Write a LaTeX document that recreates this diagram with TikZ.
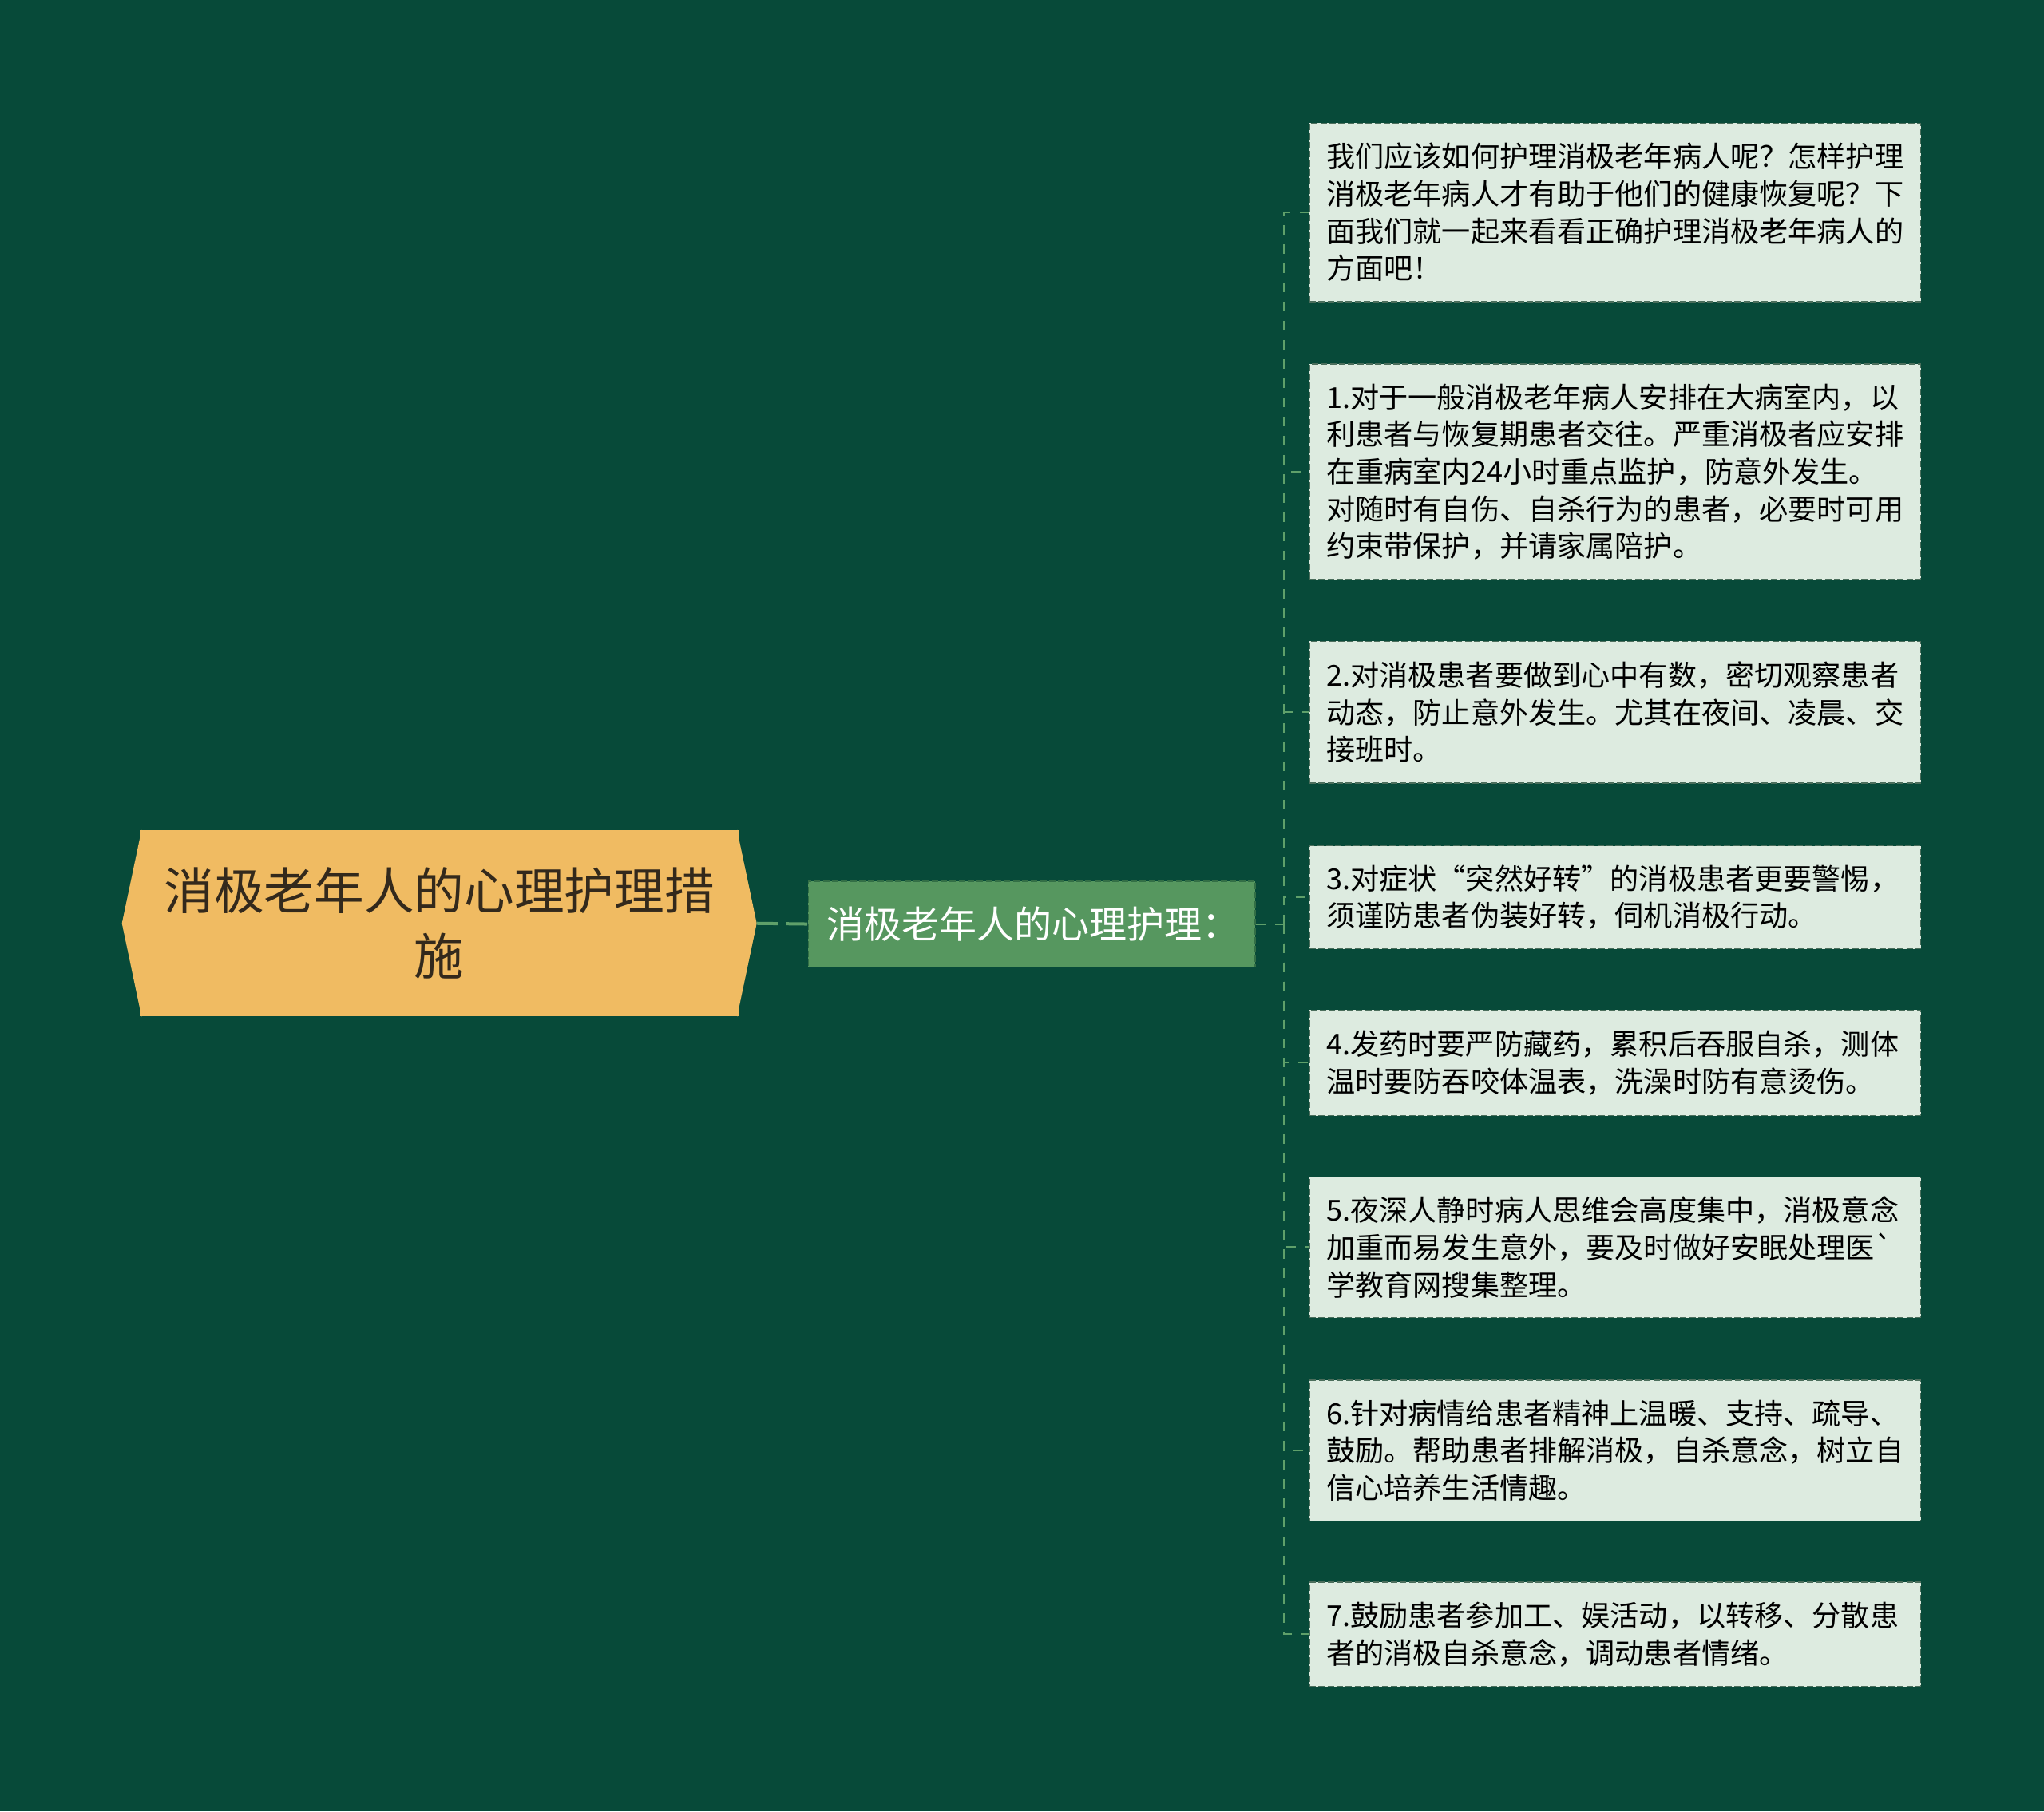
\documentclass[tikz,border=0pt]{standalone}
\usepackage{fontspec}
\setmainfont{Noto Sans CJK SC}
\usepackage{tikz}
\definecolor{bgcol}{HTML}{074A39}
\definecolor{rootcol}{HTML}{F0BB62}
\definecolor{roottext}{HTML}{33291C}
\definecolor{midcol}{HTML}{56975F}
\definecolor{midline}{HTML}{336F46}
\definecolor{leafcol}{HTML}{DDEBE0}
\definecolor{leafline}{HTML}{4B6E5C}
\definecolor{linkcol}{HTML}{5FA06A}
\tikzset{
  >=latex,
}
\tikzstyle{root}=[rectangle,fill=rootcol,text=roottext,align=center,minimum width=225.4pt,minimum height=70pt,inner sep=0pt,font=\fontsize{18.8pt}{24.5pt}\selectfont]
\tikzstyle{topic}=[rectangle,fill=midcol,draw=midline,line width=.5pt,dash pattern=on 2.4pt off 1pt,text=white,align=left,text width=154.2pt,minimum height=32.3pt,inner xsep=6.9pt,inner ysep=0pt,font=\fontsize{14.1pt}{17pt}\selectfont]
\tikzstyle{leaf}=[rectangle,anchor=west,fill=leafcol,draw=leafline,line width=.45pt,dash pattern=on 2.4pt off 1pt,text=black,align=left,text width=217pt,inner xsep=6.4pt,inner ysep=2pt,font=\fontsize{10.85pt}{14pt}\selectfont]
\tikzstyle{link}=[draw=linkcol,line width=.6pt,dash pattern=on 3.6pt off 3.6pt]
\tikzstyle{rootlink}=[draw=linkcol,line width=1.2pt,dash pattern=on 8pt off 3pt]

\begin{document}
\begin{tikzpicture}[x=0.49pt,y=-0.49pt]
  \fill[bgcol] (0,0) rectangle (1568,1390);
  \useasboundingbox (0,0) rectangle (1568,1390);

  \node[root] (root) at (337,708.5) {消极老年人的心理护理措\\施};
  \fill[rootcol] ([xshift=1pt]root.north west) -- ([xshift=-6.4pt]root.west) -- ([xshift=1pt]root.south west) -- cycle;
  \fill[rootcol] ([xshift=-1pt]root.north east) -- ([xshift=6.4pt]root.east) -- ([xshift=-1pt]root.south east) -- cycle;
  \coordinate (tip) at ([xshift=6.4pt]root.east);

  \node[topic] (mid) at (791.5,709) {消极老年人的心理护理：};
  \coordinate (fork) at (985,709);

  \node[leaf,minimum height=67.1pt] (l0) at (1004,163) {我们应该如何护理消极老年病人呢？怎样护理\\消极老年病人才有助于他们的健康恢复呢？下\\面我们就一起来看看正确护理消极老年病人的\\方面吧！};
  \node[leaf,minimum height=80.9pt] (l1) at (1004,362) {1.对于一般消极老年病人安排在大病室内，以\\利患者与恢复期患者交往。严重消极者应安排\\在重病室内24小时重点监护，防意外发生。\\对随时有自伤、自杀行为的患者，必要时可用\\约束带保护，并请家属陪护。};
  \node[leaf,minimum height=53.4pt] (l2) at (1004,546.5) {2.对消极患者要做到心中有数，密切观察患者\\动态，防止意外发生。尤其在夜间、凌晨、交\\接班时。};
  \node[leaf,minimum height=38.7pt] (l3) at (1004,688.5) {3.对症状“突然好转”的消极患者更要警惕，\\须谨防患者伪装好转，伺机消极行动。};
  \node[leaf,minimum height=39.7pt] (l4) at (1004,815.5) {4.发药时要严防藏药，累积后吞服自杀，测体\\温时要防吞咬体温表，洗澡时防有意烫伤。};
  \node[leaf,minimum height=52.9pt] (l5) at (1004,957) {5.夜深人静时病人思维会高度集中，消极意念\\加重而易发生意外，要及时做好安眠处理医\textasciigrave\\学教育网搜集整理。};
  \node[leaf,minimum height=52.9pt] (l6) at (1004,1113) {6.针对病情给患者精神上温暖、支持、疏导、\\鼓励。帮助患者排解消极，自杀意念，树立自\\信心培养生活情趣。};
  \node[leaf,minimum height=39.2pt] (l7) at (1004,1254) {7.鼓励患者参加工、娱活动，以转移、分散患\\者的消极自杀意念，调动患者情绪。};

  \draw[rootlink] (tip) -- (mid.west);
  \draw[link] (mid.east) -- (fork);
  \foreach \n in {l0,l1,l2,l3,l4,l5,l6,l7}
    \draw[link] (fork) |- (\n.west);
\end{tikzpicture}
\end{document}
